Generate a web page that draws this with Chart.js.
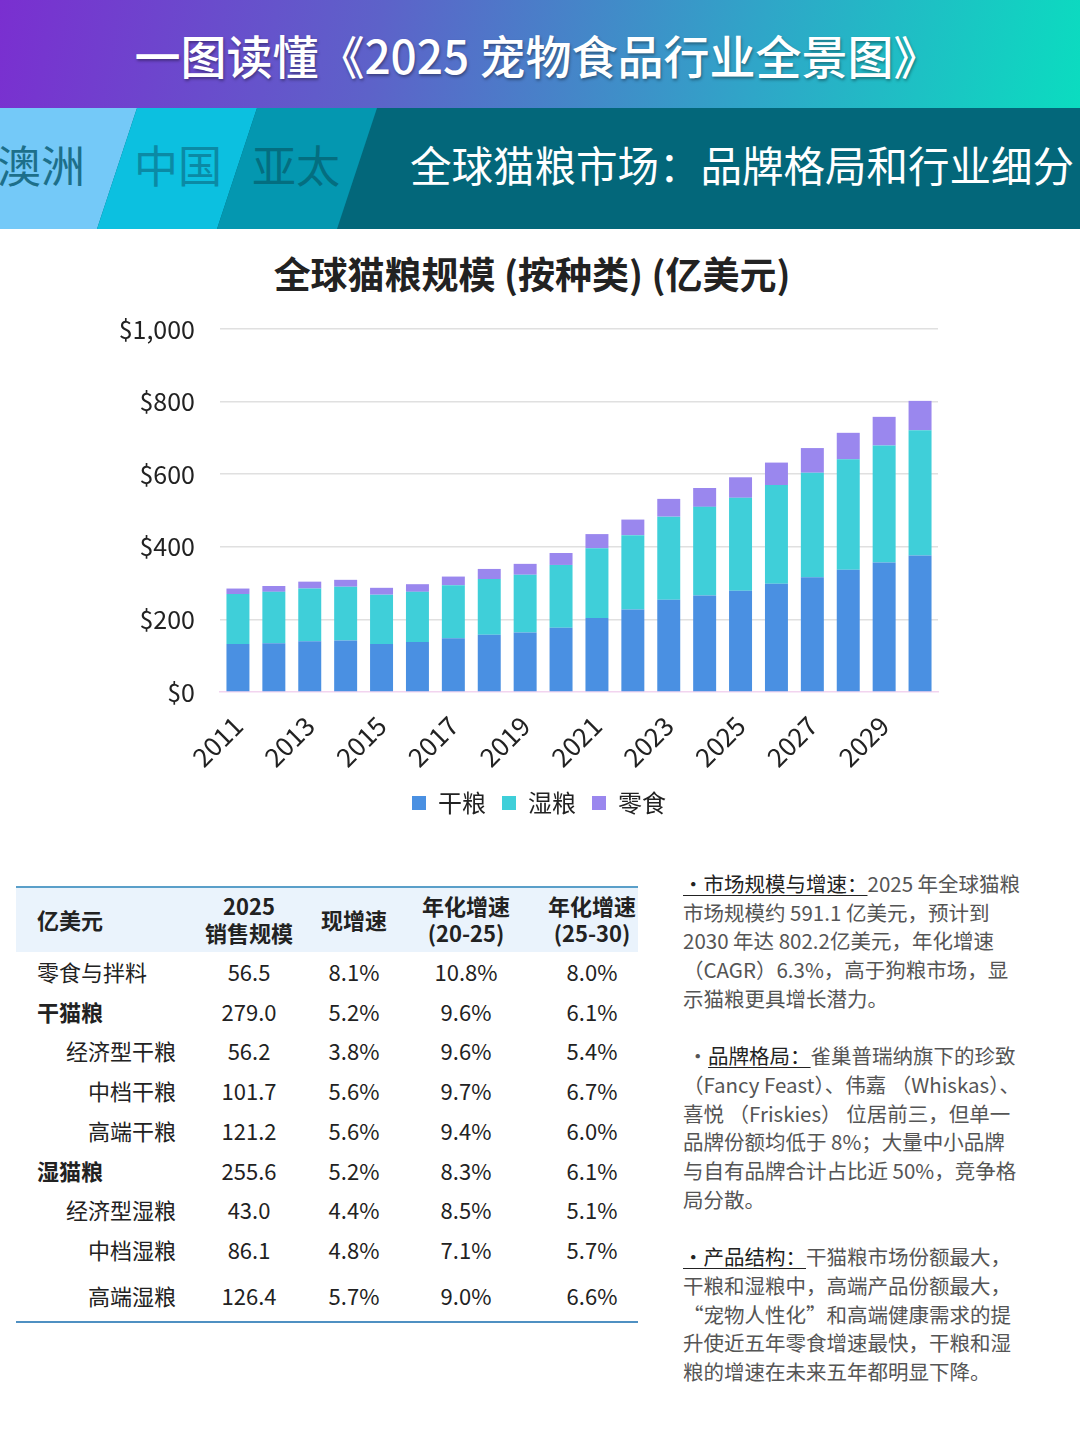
<!DOCTYPE html>
<html><head><meta charset="utf-8">
<script src="https://cdn.jsdelivr.net/npm/chart.js@4.4.1/dist/chart.umd.min.js"></script>
<style>
html,body{margin:0;padding:0}
body{width:1080px;height:1443px;position:relative;background:#fff;font-family:'Noto Sans CJK SC','Noto Sans',sans-serif;overflow:hidden;color:#222}
.abs{position:absolute;white-space:pre}
#hdr{left:0;top:0;width:1080px;height:108px;background:linear-gradient(100deg,#7a2fd0 0%,#5d62c9 35%,#2fa6c8 70%,#0bdcc0 100%)}
#title{left:0;top:24px;width:1074px;text-align:center;font-size:46px;line-height:60px;color:#fff;font-weight:500;text-shadow:1px 2px 3px rgba(0,0,0,0.35)}
#band{left:0;top:108px;width:1080px;height:121px;background:#03677a;overflow:hidden}
.seg{position:absolute;left:0;top:0;width:1080px;height:121px}
.tab{font-size:44px;line-height:60px;top:26px}
#sub{left:410px;top:26px;font-size:41.5px;line-height:60px;color:#fff}
#ctitle{left:0;top:246px;width:1064px;text-align:center;font-size:37px;line-height:54px;font-weight:700;color:#222}
#chartBox{left:0;top:289px;width:1080px;height:536px}
#tbl{left:16px;top:886px;width:622px;height:438px}
.cell{position:absolute;font-size:22px;line-height:28px;color:#222}
#notes{left:683px;top:869px;font-size:20.5px;line-height:28.7px;color:#555}
#notes u{color:#222;text-decoration-thickness:1px;text-underline-offset:3px}
</style></head>
<body>
<div class="abs" id="hdr"></div>
<div class="abs" id="title">一图读懂《2025 宠物食品行业全景图》</div>
<div class="abs" id="band">
  <div class="seg" style="background:#74c9f8;clip-path:polygon(0 0,137px 0,97px 121px,0 121px)"></div>
  <div class="seg" style="background:#0cc0e0;clip-path:polygon(137px 0,257px 0,217px 121px,97px 121px)"></div>
  <div class="seg" style="background:#0497b0;clip-path:polygon(257px 0,377px 0,337px 121px,217px 121px)"></div>
  <div class="abs tab" style="left:-3px;color:#1d6f8a">澳洲</div>
  <div class="abs tab" style="left:134px;color:#0b8aa5">中国</div>
  <div class="abs tab" style="left:252px;color:#046e80">亚太</div>
  <div class="abs" id="sub">全球猫粮市场：品牌格局和行业细分</div>
</div>
<div class="abs" id="ctitle">全球猫粮规模 (按种类) (亿美元)</div>
<div class="abs" id="chartBox"><canvas id="c" width="1080" height="536"></canvas></div>
<div class="abs" id="tbl"></div>
<div class="abs" id="notes"><u>・市场规模与增速：</u>2025 年全球猫粮
市场规模约 591.1 亿美元，预计到
2030 年达 802.2亿美元，年化增速
（CAGR）6.3%，高于狗粮市场，显
示猫粮更具增长潜力。

 ・<u>品牌格局：</u>雀巢普瑞纳旗下的珍致
（Fancy Feast）、伟嘉 （Whiskas）、
喜悦 （Friskies） 位居前三，但单一
品牌份额均低于 8%；大量中小品牌
与自有品牌合计占比近 50%，竞争格
局分散。

<u>・产品结构：</u>干猫粮市场份额最大，
干粮和湿粮中，高端产品份额最大，
“宠物人性化”和高端健康需求的提
升使近五年零食增速最快，干粮和湿
粮的增速在未来五年都明显下降。</div>
<script>
// ---- chart data ----
const years = ['2011','2012','2013','2014','2015','2016','2017','2018','2019','2020','2021','2022','2023','2024','2025','2026','2027','2028','2029','2030'];
const seriesNames = ['干粮','湿粮','零食'];
const dryFood = [132,134,140,142,132,138,148,158,164,177,204,227,254,266,279,298,316,337,357,376];
const wetFood = [138,142,145,148,136,138,146,153,159,173,192,205,229,244,256,272,288,304,322,345];
const snacks  = [15,16,19,19,19,21,24,28,30,33,39,43,49,52,56.5,62,68,73,79,81];
const yTicks = [0,200,400,600,800,1000];

// ---- table data ----
const tblHeaders = [['亿美元'],['2025','销售规模'],['现增速'],['年化增速','(20-25)'],['年化增速','(25-30)']];
const tblRows = ['零食与拌料','干猫粮','经济型干粮','中档干粮','高端干粮','湿猫粮','经济型湿粮','中档湿粮','高端湿粮'];
const tblSales = ['56.5','279.0','56.2','101.7','121.2','255.6','43.0','86.1','126.4'];
const tblNow = ['8.1%','5.2%','3.8%','5.6%','5.6%','5.2%','4.4%','4.8%','5.7%'];
const tblCagr1 = ['10.8%','9.6%','9.6%','9.7%','9.4%','8.3%','8.5%','7.1%','9.0%'];
const tblCagr2 = ['8.0%','6.1%','5.4%','6.7%','6.0%','6.1%','5.1%','5.7%','6.6%'];
const tblKind = ['top','group','sub','sub','sub','group','sub','sub','sub'];

// build table
(function(){
  const t = document.getElementById('tbl');
  let h = '';
  h += '<div style="position:absolute;left:0;top:0;width:622px;height:2px;background:#5a9fc9"></div>';
  h += '<div style="position:absolute;left:0;top:2px;width:622px;height:64px;background:#eaf3fc"></div>';
  h += '<div style="position:absolute;left:0;top:435px;width:622px;height:2px;background:#4f90c2"></div>';
  const colX = [21,233,338,450,576];
  tblHeaders.forEach((lines,i)=>{
    const top = lines.length===1 ? 20 : 6;
    const style = i===0 ? `left:${colX[0]}px;` : `left:${colX[i]-70}px;width:140px;text-align:center;`;
    h += `<div class="cell" style="${style}top:${top}px;font-weight:700;line-height:27px">${lines.join('<br>')}</div>`;
  });
  const centers = [85,125,164,204,244,284,323,363,409];
  tblRows.forEach((name,r)=>{
    const top = centers[r]-14;
    let st;
    if (tblKind[r]==='top') st = `left:${colX[0]}px;`;
    else if (tblKind[r]==='group') st = `left:${colX[0]}px;font-weight:700;`;
    else st = `left:0;width:160px;text-align:right;`;
    h += `<div class="cell" style="${st}top:${top}px">${name}</div>`;
    [tblSales,tblNow,tblCagr1,tblCagr2].forEach((arr,c)=>{
      h += `<div class="cell" style="left:${colX[c+1]-60}px;width:120px;text-align:center;top:${top}px">${arr[r]}</div>`;
    });
  });
  t.innerHTML = h;
})();

const FONT = "'Noto Sans CJK SC','Noto Sans',sans-serif";
const legendShift = {
  id: 'legendShift',
  afterLayout(chart) { chart.legend.left += 70; chart.legend.right += 70; }
};
new Chart(document.getElementById('c'), {
  type: 'bar',
  data: {
    labels: years,
    datasets: [
      {label: seriesNames[0], data: dryFood, backgroundColor: '#4a90e2'},
      {label: seriesNames[1], data: wetFood, backgroundColor: '#3fcfd9'},
      {label: seriesNames[2], data: snacks,  backgroundColor: '#9a87ee'}
    ]
  },
  plugins: [legendShift],
  options: {
    responsive: false,
    animation: false,
    devicePixelRatio: 1,
    layout: {padding: {left: 0, right: 142, top: 0, bottom: 0}},
    datasets: {bar: {categoryPercentage: 0.8, barPercentage: 0.8}},
    plugins: {
      legend: {
        position: 'bottom',
        labels: {boxWidth: 14, boxHeight: 14, padding: 16, color: '#222', font: {family: FONT, size: 24}}
      },
      tooltip: {enabled: false},
      title: {display: false}
    },
    scales: {
      x: {
        stacked: true,
        grid: {display: false, drawTicks: false},
        border: {display: true, color: '#f2d4ef', width: 1.5},
        ticks: {
          autoSkip: false, minRotation: 45, maxRotation: 45, padding: 18,
          color: '#222', font: {family: FONT, size: 26},
          callback: (v, i) => (i % 2 === 0 ? years[i] : '')
        },
        afterFit: s => { s.height = 83; }
      },
      y: {
        stacked: true,
        min: yTicks[0], max: yTicks[yTicks.length-1],
        afterBuildTicks: s => { s.ticks = yTicks.map(v => ({value: v})); },
        grid: {drawTicks: false, color: c => (c.tick && c.tick.value === 0 ? 'rgba(0,0,0,0)' : '#e0e0e0'), lineWidth: 1.5},
        border: {display: false},
        ticks: {
          padding: 25, color: '#222', font: {family: FONT, size: 25},
          callback: v => '$' + Number(v).toLocaleString('en-US')
        },
        afterFit: s => { s.width = 220; }
      }
    }
  }
});
</script>
</body></html>
